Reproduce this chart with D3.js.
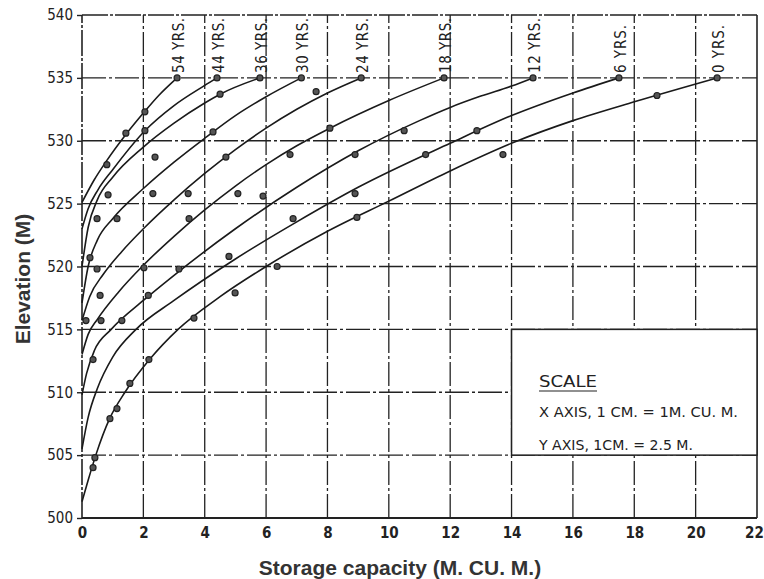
<!DOCTYPE html>
<html>
<head>
<meta charset="utf-8" />
<title>Elevation - capacity curves</title>
<script src="https://d3js.org/d3.v7.min.js"></script>
<style>
  body { margin: 0; background: #fff; }
  .hand { font-family: "DejaVu Sans Condensed", "DejaVu Sans", sans-serif; font-stretch: condensed; fill: #222; }
  .title { font-family: "Liberation Sans", Arial, sans-serif; font-weight: bold; fill: #333; }
</style>
</head>
<body>
<svg id="chart" width="764" height="579"></svg>
<script>
// curves: [storage (M. cu. m), elevation (m)]
var curve54 = [[0, 525.1], [0.4, 526.9], [0.8, 528.4], [1.43, 530.5], [2, 532.2], [2.5, 533.6], [3.1, 535]];
var curve44 = [[0, 523], [0.2, 524.6], [0.52, 526.1], [1, 527.7], [2.05, 530.8], [3, 532.8], [4, 534.4], [4.4, 535]];
var curve36 = [[0, 520], [0.2, 523.1], [0.5, 525.3], [1, 527.1], [2, 529.5], [3, 531.4], [4, 533], [4.5, 533.7], [5.8, 535]];
var curve30 = [[0, 517.1], [0.2, 520], [0.5, 522.1], [1, 523.8], [2, 526.2], [3, 528.3], [4, 530.2], [5, 532], [6, 533.5], [7.15, 535]];
var curve24 = [[0, 515.7], [0.25, 517.6], [0.7, 519.4], [1.3, 521.2], [2, 523], [3, 525.3], [4, 527.4], [5, 529.3], [6, 531], [7, 532.5], [8, 533.8], [9.1, 535]];
var curve18 = [[0, 513], [0.2, 514.6], [0.5, 515.8], [1.2, 518], [2, 520.1], [3, 522.4], [4, 524.5], [5, 526.4], [6, 528.1], [7, 529.6], [8.08, 531], [10, 533.2], [11.8, 535]];
var curve12 = [[0, 509.8], [0.15, 511.5], [0.4, 513.3], [0.95, 515], [2, 517.3], [3, 519.3], [5, 523], [7, 526.3], [9, 529.2], [11, 531.6], [12, 532.65], [13, 533.55], [14, 534.35], [14.7, 535]];
var curve6 = [[0, 505.5], [0.2, 508], [0.5, 510.3], [1, 512.8], [1.76, 515], [3, 517.3], [5, 520.6], [7, 523.55], [9, 526.3], [12, 529.8], [14, 532], [16, 533.8], [17.5, 535]];
var curve0 = [[0, 501.3], [0.2, 503], [0.45, 505], [0.9, 507.9], [1.4, 510], [2.2, 512.6], [3.13, 515], [4.5, 517.6], [6, 520], [8, 522.8], [10, 525.2], [12, 527.6], [14.1, 529.9], [16, 531.6], [18, 533.1], [20.7, 535]];

var curveLabels = ["54 YRS.", "44 YRS.", "36 YRS.", "30 YRS.", "24 YRS.", "18 YRS.", "12 YRS.", "6 YRS.", "0 YRS."];
var curves = [curve54, curve44, curve36, curve30, curve24, curve18, curve12, curve6, curve0];

// plotted survey points
var observed = [
  [3.1, 535], [4.4, 535], [5.8, 535], [7.15, 535], [9.1, 535], [11.8, 535], [14.7, 535], [17.5, 535], [20.7, 535],
  [4.5, 533.7], [7.63, 533.9], [18.74, 533.6], [2.05, 532.3], [1.43, 530.6], [2.05, 530.8], [0.81, 528.1],
  [4.27, 530.7], [4.69, 528.7], [2.38, 528.7], [0.85, 525.7], [2.31, 525.8], [3.46, 525.8], [5.08, 525.8],
  [5.9, 525.6], [0.49, 523.8], [1.14, 523.8], [3.49, 523.8], [0.26, 520.7], [0.49, 519.8], [2.02, 519.9],
  [3.16, 519.8], [4.79, 520.8], [6.36, 520], [0.59, 517.7], [2.16, 517.7], [4.99, 517.9], [0.13, 515.7],
  [0.62, 515.7], [1.3, 515.7], [3.65, 515.9], [0.36, 512.6], [2.18, 512.6], [1.56, 510.7], [1.14, 508.7],
  [0.91, 507.9], [0.42, 504.8], [0.36, 504], [6.78, 528.9], [8.08, 531], [8.9, 528.9], [10.5, 530.8],
  [6.88, 523.8], [8.9, 525.8], [8.96, 523.9], [11.2, 528.9], [12.87, 530.8], [13.72, 528.9]
];

var xTicks = d3.range(0, 23, 2);
var yTicks = d3.range(500, 541, 5);
var scaleLines = ["X  AXIS,  1 CM. = 1M.  CU.  M.", "Y  AXIS,  1CM. = 2.5 M."];

var svg = d3.select("#chart");

var x = d3.scaleLinear().domain([0, 22]).range([82, 757]);
var y = d3.scaleLinear().domain([500, 540]).range([518, 15]);

var ink = "#222";
var dash = "24,3,3,3";

// grid
var grid = svg.append("g");
grid.selectAll("line.v")
    .data(xTicks.filter(function (d) { return d > 0 && d < 22; }))
    .enter().append("line")
    .attr("x1", function (d) { return x(d); })
    .attr("x2", function (d) { return x(d); })
    .attr("y1", y(500)).attr("y2", y(540))
    .style("stroke", ink).style("stroke-width", 1.3).style("stroke-dasharray", dash);

grid.selectAll("line.h")
    .data(yTicks.filter(function (d) { return d > 500 && d < 540; }))
    .enter().append("line")
    .attr("y1", function (d) { return y(d); })
    .attr("y2", function (d) { return y(d); })
    .attr("x1", x(0)).attr("x2", x(22))
    .style("stroke", ink).style("stroke-width", 1.3).style("stroke-dasharray", dash);

// frame
grid.append("line").attr("x1", x(0)).attr("x2", x(22)).attr("y1", y(540)).attr("y2", y(540))
    .style("stroke", ink).style("stroke-width", 1.6).style("stroke-dasharray", "26,2,3,2");
grid.append("line").attr("x1", x(0)).attr("x2", x(0)).attr("y1", y(500)).attr("y2", y(540))
    .style("stroke", ink).style("stroke-width", 1.6).style("stroke-dasharray", "26,2,3,2");
grid.append("line").attr("x1", x(22)).attr("x2", x(22)).attr("y1", y(500)).attr("y2", y(540))
    .style("stroke", ink).style("stroke-width", 1.6);
grid.append("line").attr("x1", x(0)).attr("x2", x(22)).attr("y1", y(500)).attr("y2", y(500))
    .style("stroke", ink).style("stroke-width", 1.8);

// axes
var yAxis = svg.append("g")
    .attr("transform", "translate(" + x(0) + ",0)")
    .call(d3.axisLeft(y).tickValues(yTicks).tickSize(5).tickPadding(4));
yAxis.select(".domain").remove();
yAxis.selectAll("line").style("stroke", ink).style("stroke-width", 1.4);
yAxis.selectAll("text").attr("class", "hand").style("font-size", "15px");

var xAxis = svg.append("g")
    .attr("transform", "translate(0," + y(500) + ")")
    .call(d3.axisBottom(x).tickValues(xTicks).tickSize(0).tickPadding(9));
xAxis.select(".domain").remove();
xAxis.selectAll("text").attr("class", "hand").style("font-size", "15px").style("font-weight", "bold")
    .attr("dx", function (d) { return d === 22 ? -3 : 0; });

// curves
var line = d3.line()
    .x(function (d) { return x(d[0]); })
    .y(function (d) { return y(d[1]); })
    .curve(d3.curveMonotoneX);

svg.append("g").selectAll("path")
    .data(curves)
    .enter().append("path")
    .attr("d", line)
    .style("fill", "none")
    .style("stroke", "#1a1a1a")
    .style("stroke-width", 1.6);

// points
svg.append("g").selectAll("circle")
    .data(observed)
    .enter().append("circle")
    .attr("cx", function (d) { return x(d[0]); })
    .attr("cy", function (d) { return y(d[1]); })
    .attr("r", 3)
    .style("fill", "#555")
    .style("stroke", "#222")
    .style("stroke-width", 1.2);

// year labels at the top end of each curve
svg.append("g").selectAll("text")
    .data(curves)
    .enter().append("text")
    .attr("class", "hand")
    .attr("transform", function (d) {
        var last = d[d.length - 1];
        return "translate(" + (x(last[0]) + 7) + "," + (y(last[1]) - 5) + ") rotate(-90)";
    })
    .style("font-size", "15px")
    .attr("textLength", function (d, i) { return curveLabels[i].length > 6 ? 55 : 48; })
    .attr("lengthAdjust", "spacing")
    .text(function (d, i) { return curveLabels[i]; });

// scale box
var box = svg.append("g");
box.append("rect")
    .attr("x", x(14)).attr("y", y(515))
    .attr("width", x(22) - x(14)).attr("height", y(505) - y(515))
    .style("fill", "#fff").style("stroke", ink).style("stroke-width", 1.5);
box.append("text").attr("class", "hand")
    .attr("x", 539).attr("y", 387)
    .style("font-size", "15px")
    .attr("textLength", 58).attr("lengthAdjust", "spacingAndGlyphs")
    .text("SCALE");
box.append("line").attr("x1", 539).attr("x2", 597).attr("y1", 391).attr("y2", 391)
    .style("stroke", ink).style("stroke-width", 1.2);
box.selectAll("text.s")
    .data(scaleLines)
    .enter().append("text")
    .attr("class", "hand")
    .attr("x", 539)
    .attr("y", function (d, i) { return 417 + i * 33; })
    .style("font-size", "14px")
    .attr("textLength", function (d, i) { return i === 0 ? 199 : 154; })
    .attr("lengthAdjust", "spacingAndGlyphs")
    .text(function (d) { return d; });

// axis titles
svg.append("text")
    .attr("class", "title")
    .attr("transform", "translate(30,279) rotate(-90)")
    .attr("text-anchor", "middle")
    .style("font-size", "21px")
    .text("Elevation (M)");

svg.append("text")
    .attr("class", "title")
    .attr("x", 400).attr("y", 575)
    .attr("text-anchor", "middle")
    .style("font-size", "21px")
    .text("Storage capacity (M. CU. M.)");
</script>
</body>
</html>
